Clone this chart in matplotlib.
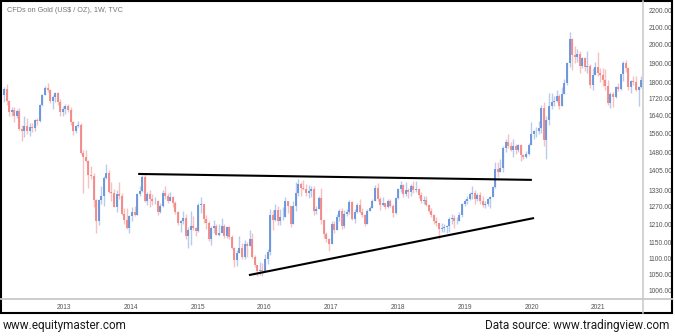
import matplotlib

matplotlib.use("Agg")
import matplotlib.pyplot as plt
import matplotlib.dates as mdates
import numpy as np
import pandas as pd
from matplotlib.lines import Line2D
from matplotlib.patches import Rectangle

# Gold CFD, two-week bars (USD / oz), Feb 2012 - Aug 2021
first_open = 1740
close = [
    # 2012
    1770, 1710, 1658, 1668, 1640, 1663, 1580, 1572, 1595, 1570, 1590, 1583, 1620, 1617, 1690, 1740,
    1775, 1765, 1710, 1730, 1750, 1705, 1657, 1670,
    # 2013
    1685, 1668, 1610, 1572, 1592, 1600, 1478, 1462, 1445, 1387, 1385, 1296, 1222, 1295, 1310, 1378,
    1395, 1325, 1322, 1270, 1315, 1310, 1245, 1225, 1198, 1238,
    # 2014
    1252, 1243, 1318, 1328, 1380, 1293, 1318, 1300, 1290, 1293, 1253, 1275, 1320, 1308, 1293, 1305,
    1285, 1252, 1215, 1220, 1232, 1170, 1190, 1205, 1196, 1187,
    # 2015
    1277, 1280, 1228, 1213, 1160, 1198, 1205, 1175, 1180, 1205, 1170, 1200, 1168, 1133, 1095, 1115,
    1133, 1103, 1146, 1137, 1162, 1105, 1078, 1062, 1065, 1062,
    # 2016
    1098, 1118, 1240, 1225, 1260, 1220, 1235, 1235, 1290, 1273, 1212, 1275, 1322, 1355, 1340, 1335,
    1320, 1328, 1337, 1255, 1262, 1303, 1225, 1177, 1160, 1145,
    # 2017
    1210, 1190, 1235, 1257, 1203, 1245, 1252, 1288, 1228, 1253, 1278, 1253, 1242, 1210, 1257, 1267,
    1292, 1340, 1297, 1276, 1283, 1269, 1293, 1275, 1250, 1303,
    # 2018
    1336, 1350, 1315, 1330, 1323, 1347, 1333, 1336, 1314, 1290, 1294, 1278, 1254, 1242, 1222, 1213,
    1193, 1197, 1199, 1203, 1228, 1232, 1222, 1222, 1240, 1280,
    # 2019
    1292, 1300, 1315, 1322, 1298, 1312, 1292, 1276, 1280, 1297, 1306, 1342, 1411, 1400, 1418, 1498,
    1525, 1505, 1488, 1505, 1490, 1510, 1467, 1462, 1475, 1512,
    # 2020
    1560, 1570, 1573, 1585, 1675, 1530, 1620, 1685, 1705, 1708, 1733, 1685, 1745, 1800, 1900, 2035,
    1945, 1935, 1950, 1885, 1930, 1880, 1888, 1790, 1840, 1880, 1850,
    # 2021
    1840, 1815, 1785, 1700, 1745, 1730, 1777, 1770, 1843, 1902, 1877, 1780, 1810, 1802, 1763, 1780,
    1812,
]
high = [
    1780, 1792, 1715, 1680, 1680, 1670, 1675, 1597, 1640, 1630, 1605, 1605, 1625, 1630, 1695, 1745,
    1785, 1796, 1770, 1740, 1755, 1755, 1720, 1685,
    1695, 1695, 1680, 1615, 1600, 1615, 1605, 1490, 1488, 1450, 1425, 1395, 1300, 1300, 1348, 1385,
    1434, 1410, 1360, 1335, 1330, 1362, 1320, 1265, 1265, 1240,
    1270, 1272, 1320, 1345, 1390, 1392, 1325, 1330, 1315, 1305, 1295, 1285, 1330, 1346, 1320, 1325,
    1310, 1290, 1255, 1225, 1255, 1246, 1200, 1255, 1238, 1200,
    1285, 1307, 1280, 1240, 1220, 1205, 1225, 1210, 1210, 1232, 1210, 1205, 1205, 1175, 1135, 1125,
    1170, 1147, 1158, 1150, 1191, 1180, 1110, 1080, 1088, 1085,
    1112, 1128, 1263, 1260, 1282, 1272, 1262, 1270, 1305, 1290, 1272, 1290, 1362, 1375, 1360, 1368,
    1355, 1352, 1345, 1345, 1272, 1310, 1338, 1225, 1185, 1165,
    1220, 1220, 1245, 1263, 1265, 1260, 1262, 1296, 1290, 1262, 1285, 1297, 1265, 1245, 1262, 1275,
    1300, 1350, 1357, 1305, 1306, 1285, 1300, 1300, 1280, 1306,
    1340, 1366, 1355, 1362, 1338, 1355, 1365, 1365, 1340, 1325, 1310, 1310, 1280, 1265, 1245, 1236,
    1215, 1215, 1212, 1208, 1235, 1244, 1240, 1235, 1252, 1285,
    1300, 1310, 1326, 1346, 1330, 1320, 1325, 1310, 1290, 1303, 1310, 1348, 1439, 1440, 1452, 1505,
    1535, 1557, 1525, 1535, 1517, 1517, 1515, 1475, 1485, 1520,
    1611, 1575, 1590, 1615, 1689, 1704, 1640, 1747, 1747, 1735, 1765, 1745, 1780, 1818, 1905, 2075,
    2040, 1992, 1975, 1965, 1933, 1935, 1965, 1895, 1875, 1905, 1960,
    1875, 1875, 1872, 1815, 1755, 1755, 1785, 1797, 1845, 1912, 1916, 1880, 1815, 1834, 1832, 1785,
    1835,
]
low = [
    1705, 1690, 1640, 1640, 1612, 1628, 1575, 1527, 1545, 1560, 1550, 1565, 1570, 1600, 1612, 1685,
    1740, 1755, 1700, 1672, 1705, 1690, 1640, 1640,
    1650, 1655, 1598, 1555, 1562, 1590, 1475, 1321, 1440, 1338, 1375, 1270, 1180, 1208, 1280, 1275,
    1375, 1320, 1292, 1270, 1251, 1300, 1240, 1210, 1195, 1182,
    1222, 1238, 1240, 1310, 1325, 1288, 1277, 1268, 1277, 1280, 1240, 1250, 1270, 1300, 1283, 1290,
    1270, 1245, 1208, 1183, 1210, 1161, 1131, 1142, 1190, 1170,
    1185, 1250, 1215, 1195, 1155, 1142, 1180, 1175, 1170, 1180, 1163, 1163, 1162, 1130, 1072, 1077,
    1115, 1097, 1097, 1104, 1150, 1100, 1072, 1046, 1048, 1046,
    1072, 1082, 1110, 1192, 1222, 1208, 1206, 1225, 1235, 1250, 1200, 1210, 1255, 1310, 1310, 1330,
    1310, 1302, 1305, 1241, 1246, 1262, 1211, 1165, 1152, 1122,
    1148, 1180, 1190, 1222, 1195, 1197, 1238, 1246, 1225, 1214, 1247, 1250, 1235, 1205, 1215, 1255,
    1265, 1290, 1290, 1260, 1272, 1262, 1265, 1270, 1236, 1245,
    1300, 1326, 1307, 1310, 1303, 1308, 1322, 1325, 1302, 1285, 1281, 1272, 1250, 1235, 1211, 1204,
    1160, 1185, 1185, 1180, 1185, 1210, 1196, 1212, 1221, 1236,
    1275, 1280, 1295, 1300, 1280, 1290, 1280, 1270, 1266, 1275, 1266, 1305, 1340, 1382, 1400, 1400,
    1480, 1500, 1484, 1460, 1474, 1480, 1445, 1452, 1455, 1470,
    1517, 1535, 1547, 1560, 1563, 1505, 1451, 1600, 1670, 1685, 1705, 1670, 1710, 1765, 1790, 1880,
    1862, 1900, 1905, 1848, 1875, 1860, 1850, 1775, 1765, 1850, 1835,
    1802, 1785, 1765, 1690, 1677, 1680, 1725, 1760, 1765, 1810, 1855, 1761, 1750, 1790, 1760, 1687,
    1775,
]

# Triangle drawn over the chart: (date, price) end points
upper_line = (["2014-02-09", "2020-01-03"], [1393, 1370])
lower_line = (["2015-10-08", "2020-01-15"], [1049, 1231])

price_ticks = [1006, 1050, 1100, 1150, 1210, 1270, 1330, 1405, 1480, 1560, 1640,
               1720, 1800, 1900, 2000, 2100, 2200]
years = list(range(2013, 2022))

UP_BODY, UP_WICK = "#6592d8", "#b8ccee"
DN_BODY, DN_WICK = "#f28686", "#f9c0c0"

W, H = 675, 336


def fx(px):
    return px / W


def fy(py):
    return 1 - py / H


fig = plt.figure(figsize=(W / 100, H / 100), dpi=100)
fig.patch.set_facecolor("white")
ax = fig.add_axes([fx(2), fy(299), fx(641), 297 / H])

dates = pd.date_range("2012-02-06", periods=len(close), freq="14D")
x = mdates.date2num(dates)
c = np.array(close, dtype=float)
o = np.concatenate([[first_open], c[:-1]])
h = np.maximum(np.array(high, dtype=float), np.maximum(o, c))
lo = np.minimum(np.array(low, dtype=float), np.minimum(o, c))
up = c >= o

ax.vlines(x[up], lo[up], h[up], color=UP_WICK, lw=1.0)
ax.vlines(x[~up], lo[~up], h[~up], color=DN_WICK, lw=1.0)
ax.vlines(x[up], o[up], c[up], color=UP_BODY, lw=1.3)
ax.vlines(x[~up], o[~up], c[~up], color=DN_BODY, lw=1.3)

for xs, ys in (upper_line, lower_line):
    ax.plot(mdates.date2num(pd.to_datetime(xs)), ys, color="black", lw=1.5,
            solid_capstyle="butt")

ax.set_yscale("log")
ax.set_ylim(981, 2256)
ax.set_xlim(mdates.date2num(pd.Timestamp("2012-01-26")), mdates.date2num(pd.Timestamp("2021-09-02")))

ax.yaxis.tick_right()
ax.yaxis.set_minor_locator(matplotlib.ticker.NullLocator())
ax.set_yticks(price_ticks)
ax.set_yticklabels([f"{v:.2f}" for v in price_ticks], family="Liberation Sans")
ax.set_xticks(mdates.date2num([pd.Timestamp(f"{y}-01-01") for y in years]))
ax.set_xticklabels([str(y) for y in years], family="Liberation Sans")
ax.tick_params(axis="both", length=0, labelsize=4.8, labelcolor="#555555")
ax.tick_params(axis="y", pad=4)
ax.tick_params(axis="x", pad=3.5)
for s in ax.spines.values():
    s.set_visible(False)

# price / time scale separators and outer frame
fig.add_artist(Line2D([fx(643), fx(643)], [fy(313), fy(1)], color="#c8c8c8", lw=1.1))
fig.add_artist(Line2D([fx(1), fx(672)], [fy(299), fy(299)], color="#c8c8c8", lw=1.3))
fig.add_artist(Rectangle((fx(1), fy(313)), fx(671), 312 / H, transform=fig.transFigure,
                         fill=False, ec="black", lw=1.5))

fig.text(fx(7), fy(10), "CFDs on Gold (US$ / OZ), 1W, TVC", fontsize=5.2, color="#777777",
         va="center", ha="left", family="Liberation Sans")
fig.text(fx(3), fy(325), "www.equitymaster.com", fontsize=8.5, color="#1a1a1a",
         va="center", ha="left", family="Roboto")
fig.text(fx(669), fy(325), "Data source: www.tradingview.com", fontsize=8.5, color="#1a1a1a",
         va="center", ha="right", family="Roboto")

fig.savefig("out.png", dpi=100)
